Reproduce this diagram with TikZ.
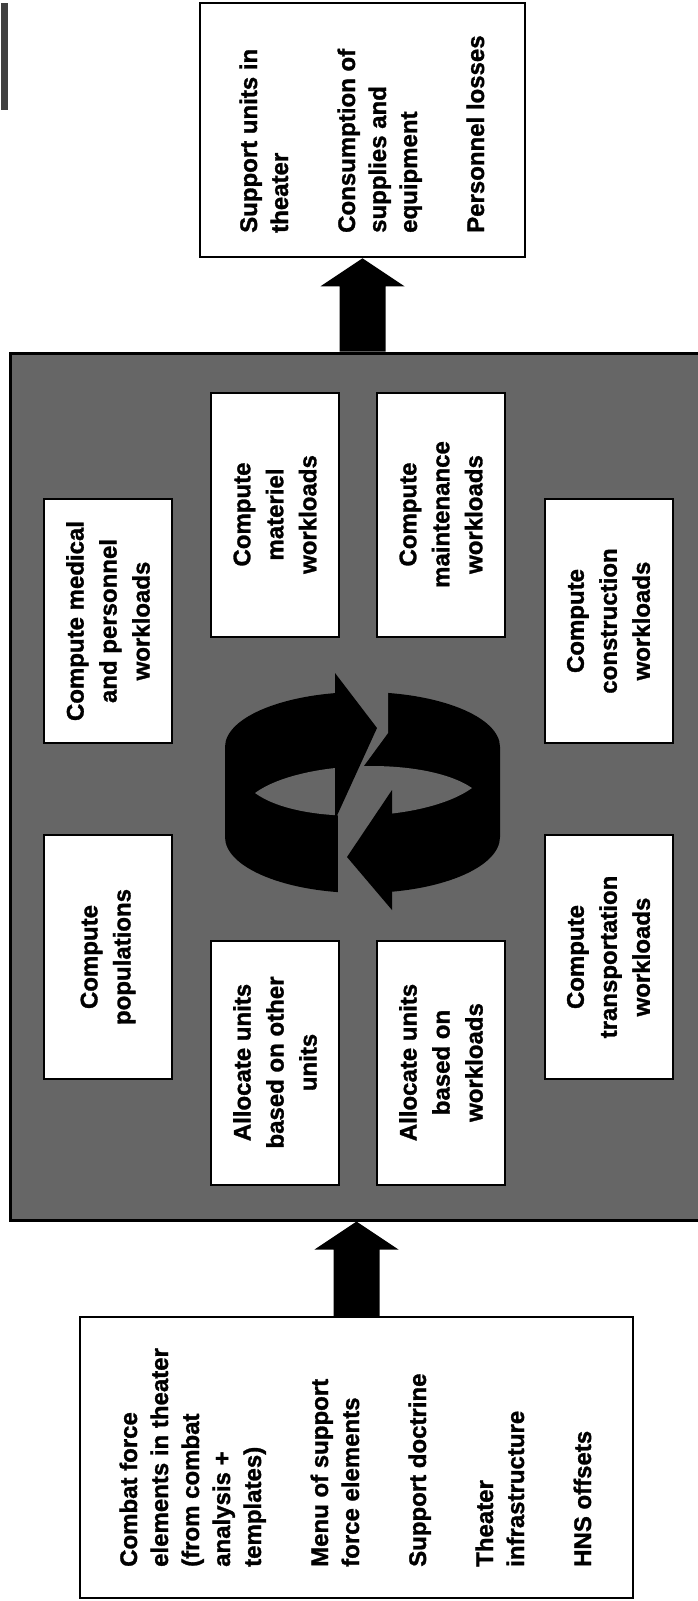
\documentclass[tikz,border=0pt]{standalone}
\usepackage{fontspec}
\setmainfont{Liberation Sans}[BoldFeatures={FakeBold=1.3}]
\usetikzlibrary{calc}
\newcommand{\fsbig}{\fontsize{24}{31}\selectfont\bfseries}
\newcommand{\fsin}{\fontsize{24}{33}\selectfont\bfseries}
\definecolor{halftone}{gray}{0.40}
\begin{document}
\begin{tikzpicture}[x=1pt,y=-1pt,
  iobox/.style={draw=black, line width=2.5pt, fill=white, inner sep=0pt},
  procbox/.style={draw=black, line width=3pt, fill=halftone, inner sep=0pt},
  ln/.style={rotate=90, anchor=base west, inner sep=0pt, font=\fsbig},
  inbox/.style={rotate=90, draw=black, line width=2pt, fill=white, minimum width=244pt, minimum height=128pt, inner sep=0pt, align=center, font=\fsin},
  blockarrow/.style={fill=black},
  ringpart/.style={fill=black},
  ringcut/.style={fill=halftone}
]
\useasboundingbox (0,0) rectangle (697,1601);
\fill[white] (0,0) rectangle (697,1601);
% scan mark
\fill[black!75] (1,3) rectangle (8,110);

% main boxes
\node[iobox, minimum width=325pt, minimum height=254pt] (out) at (362.5,130) {};
\node[iobox, minimum width=553pt, minimum height=281pt] (inp) at (356.5,1457.5) {};
\node[procbox, minimum width=690pt, minimum height=867pt] (proc) at (355,786.5) {};

% block arrow: process -> output
\coordinate (ot) at (out.south);
\coordinate (oR) at ($(ot)+(23,0)$);
\coordinate (oL) at ($(ot)+(-23,0)$);
\fill[blockarrow] (ot) -- ($(ot)+(42,28)$) -- ($(ot)+(23,28)$)
  -- (oR |- proc.north) -- (oL |- proc.north)
  -- ($(ot)+(-23,28)$) -- ($(ot)+(-42,28)$) -- cycle;
% block arrow: input -> process
\coordinate (it) at (proc.south -| inp.north);
\coordinate (iR) at ($(it)+(23,0)$);
\coordinate (iL) at ($(it)+(-23,0)$);
\fill[blockarrow] (it) -- ($(it)+(42,28)$) -- ($(it)+(23,28)$)
  -- (iR |- inp.north) -- (iL |- inp.north)
  -- ($(it)+(-23,28)$) -- ($(it)+(-42,28)$) -- cycle;

% inner boxes
\node[inbox] (med) at (108,621) {Compute medical\\and personnel\\workloads};
\node[inbox] (mat) at (275,514.5) {Compute\\materiel\\workloads};
\node[inbox] (mnt) at (441,514.5) {Compute\\maintenance\\workloads};
\node[inbox] (con) at (608.5,621) {Compute\\construction\\workloads};
\node[inbox] (pop) at (108,957) {Compute\\populations};
\node[inbox] (alo) at (275,1062.5) {Allocate units\\based on other\\units};
\node[inbox] (alw) at (441,1062.5) {Allocate units\\based on\\workloads};
\node[inbox] (trn) at (608.5,957) {Compute\\transportation\\workloads};

% circular arrows
\fill[ringpart] (225,747) .. controls (225,716.6) and (286.6,692) .. (362.5,692)
  .. controls (438.4,692) and (500,716.6) .. (500,747) -- (500,837)
  .. controls (500,867.9) and (438.4,893) .. (362.5,893)
  .. controls (286.6,893) and (225,867.9) .. (225,837) -- cycle;
\fill[ringcut] (335,655) -- (388,655) -- (388,733) -- (355,778) -- (335,778) -- cycle;
\fill[ringcut] (338,790) rectangle (392,925);
\fill[ringcut] (255,793) .. controls (300,760) and (425,756) .. (472,788)
  .. controls (425,822) and (300,826) .. (255,793) -- cycle;
\fill[ringpart] (335,673) -- (377,728) -- (335,820) -- cycle;
\fill[ringpart] (392,790) -- (392,910) -- (347,857) -- cycle;

% output texts
\node[ln] (o1) at (257,233) {Support units in};
\node[ln] (o2) at (288,233) {theater};
\node[ln] (o3) at (355,233) {Consumption of};
\node[ln] (o4) at (386,233) {supplies and};
\node[ln] (o5) at (417,233) {equipment};
\node[ln] (o6) at (484,233) {Personnel losses};

% input texts
\node[ln] (i1) at (137,1567) {Combat force};
\node[ln] (i2) at (168,1567) {elements in theater};
\node[ln] (i3) at (199,1567) {(from combat};
\node[ln] (i4) at (230,1567) {analysis +};
\node[ln] (i5) at (261,1567) {templates)};
\node[ln] (i6) at (328,1567) {Menu of support};
\node[ln] (i7) at (359,1567) {force elements};
\node[ln] (i8) at (426,1567) {Support doctrine};
\node[ln] (i9) at (493,1567) {Theater};
\node[ln] (i10) at (524,1567) {infrastructure};
\node[ln] (i11) at (591,1567) {HNS offsets};
\end{tikzpicture}
\end{document}
